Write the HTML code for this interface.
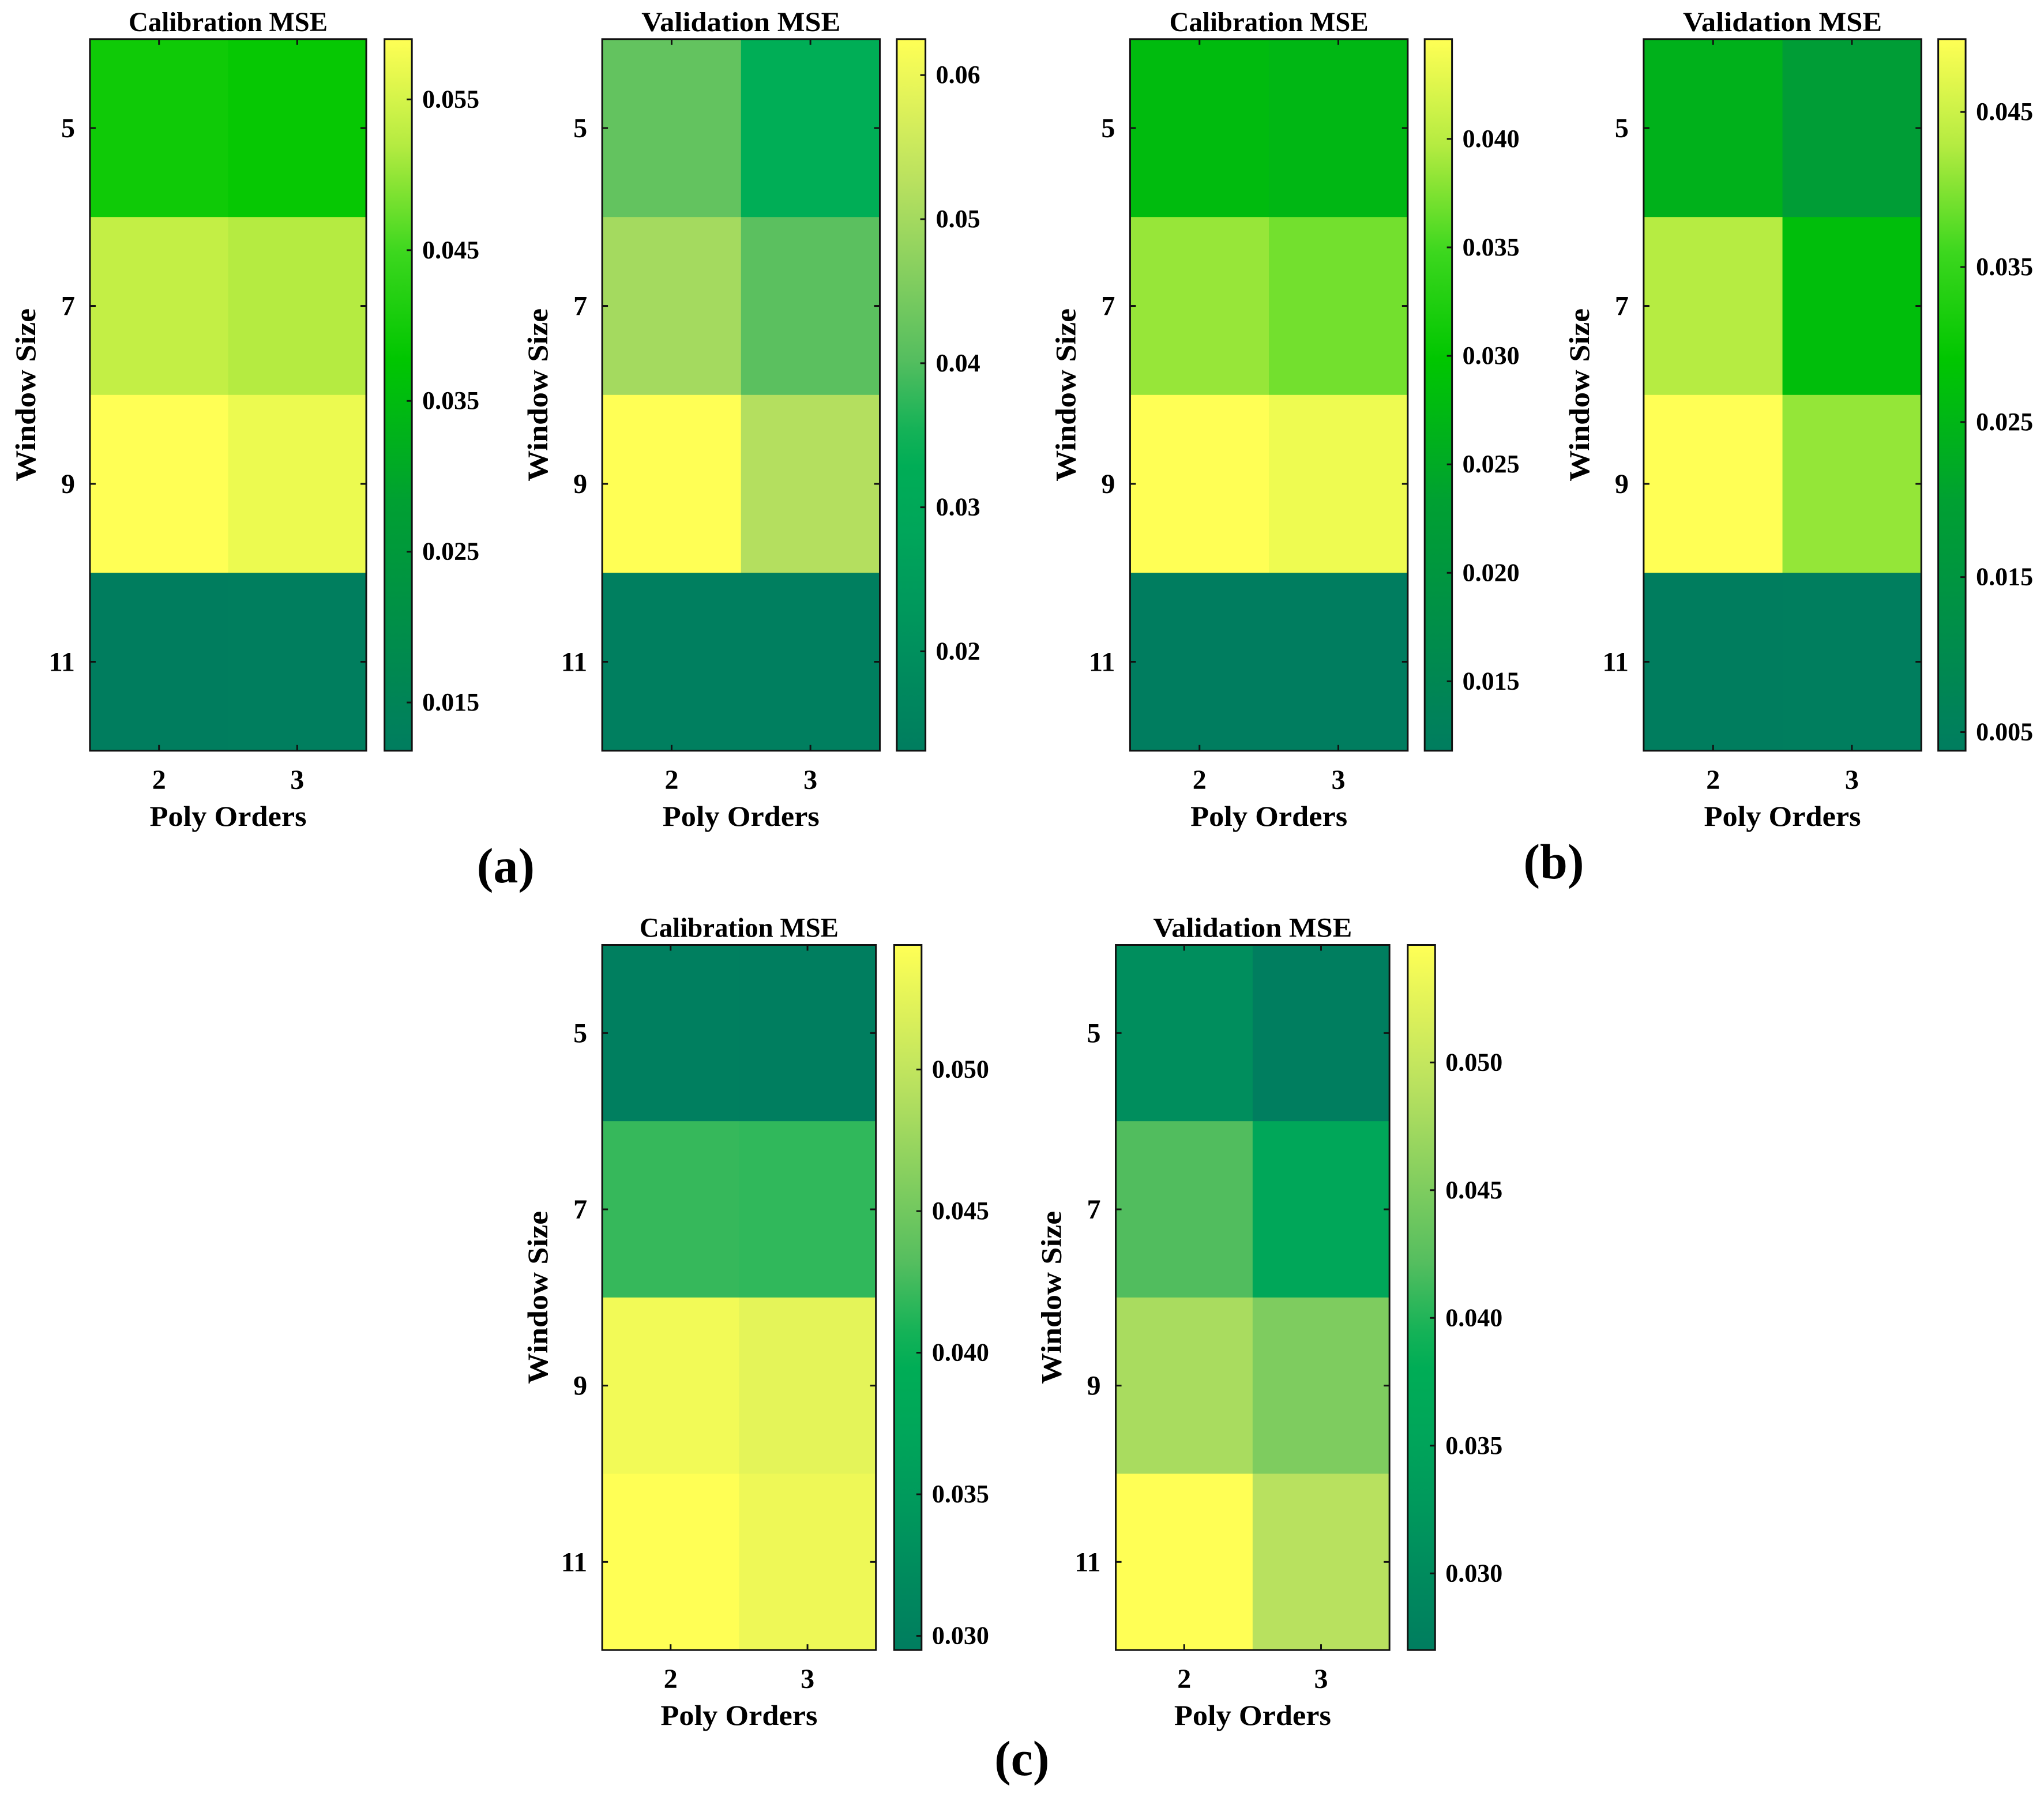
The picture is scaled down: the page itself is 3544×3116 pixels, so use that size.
<!DOCTYPE html>
<html><head><meta charset="utf-8"><style>
html,body{margin:0;padding:0;background:#fff;}
svg{display:block;font-family:"Liberation Serif",serif;font-weight:bold;}
</style></head><body>
<svg id="fig" width="3544" height="3116" viewBox="0 0 3544 3116" xmlns="http://www.w3.org/2000/svg"></svg>
<script>
const windowSizes = ["5","7","9","11"];
const polyOrders = ["2","3"];
// values[row][col]
const a1Values = [[0.0395,0.0385],[0.0533,0.0520],[0.0590,0.0572],[0.0120,0.0121]];
const a2Values = [[0.0420,0.0330],[0.0500,0.0410],[0.0625,0.0520],[0.0140,0.0140]];
const b1Values = [[0.0280,0.0272],[0.0385,0.0370],[0.0446,0.0435],[0.0118,0.0119]];
const b2Values = [[0.0240,0.0185],[0.0430,0.0270],[0.0497,0.0410],[0.0040,0.0041]];
const c1Values = [[0.0298,0.0297],[0.0420,0.0418],[0.0535,0.0525],[0.0544,0.0532]];
const c2Values = [[0.0305,0.0272],[0.0420,0.0360],[0.0480,0.0450],[0.0546,0.0490]];
const a1Ticks = ["0.015","0.025","0.035","0.045","0.055"];
const a2Ticks = ["0.02","0.03","0.04","0.05","0.06"];
const b1Ticks = ["0.015","0.020","0.025","0.030","0.035","0.040"];
const b2Ticks = ["0.005","0.015","0.025","0.035","0.045"];
const c1Ticks = ["0.030","0.035","0.040","0.045","0.050"];
const c2Ticks = ["0.030","0.035","0.040","0.045","0.050"];
const a1Range = [0.0118,0.0590];
const a2Range = [0.0131,0.0625];
const b1Range = [0.0118,0.0446];
const b2Range = [0.0038,0.0497];
const c1Range = [0.0295,0.0544];
const c2Range = [0.0270,0.0546];

const mapA = [[0,[0,125,95]],[0.35,[0,160,50]],[0.55,[0,198,0]],[0.7,[60,215,30]],[0.85,[180,235,65]],[1,[255,255,85]]];
const mapB = [[0,[0,125,95]],[0.3,[0,165,90]],[0.42,[0,175,85]],[0.55,[85,190,95]],[0.8,[185,225,95]],[1,[255,255,85]]];

function cmap(map,t){
  t=Math.max(0,Math.min(1,t));
  for(let i=1;i<map.length;i++){
    if(t<=map[i][0]){
      const [t0,c0]=map[i-1],[t1,c1]=map[i];const f=(t-t0)/(t1-t0);
      return `rgb(${c0.map((v,k)=>Math.round(v+(c1[k]-v)*f)).join(",")})`;
    }
  }
  return `rgb(${map[map.length-1][1].join(",")})`;
}
const NS="http://www.w3.org/2000/svg";
const svg=document.getElementById('fig');
function el(tag,attrs,parent,text){
  const e=document.createElementNS(NS,tag);
  for(const k in attrs) e.setAttribute(k,attrs[k]);
  if(text!==undefined) e.textContent=text;
  (parent||svg).appendChild(e);return e;
}
let uid=0;
function panel(name,title,x0,x1,y0,y1,cbx0,cbx1,values,ticks,range,map){
  const g=el('g',{});
  
  
  const nR=windowSizes.length,nC=polyOrders.length;
  const cw=(x1-x0)/nC,ch=(y1-y0)/nR;
  const xs=c=>x0+cw*(c+0.5), ys=r=>y0+ch*(r+0.5);
  const val2t=v=>(v-range[0])/(range[1]-range[0]);
  const cbY=v=>y1-(v-range[0])/(range[1]-range[0])*(y1-y0);
  values.forEach((row,r)=>row.forEach((v,c)=>{
    const rc=el('rect',{x:x0+cw*c,y:y0+ch*r,width:cw+0.5,height:ch+0.5,fill:cmap(map,val2t(v))},g);
    
    
  }));
  const fr=el('rect',{x:x0,y:y0,width:x1-x0,height:y1-y0,fill:'none',stroke:'#111','stroke-width':3},g);
  
  
  polyOrders.forEach((p,c)=>{
    el('line',{x1:xs(c),x2:xs(c),y1:y1,y2:y1-10,stroke:'#111','stroke-width':3},g);
    el('line',{x1:xs(c),x2:xs(c),y1:y0,y2:y0+10,stroke:'#111','stroke-width':3},g);
    const t=el('text',{x:xs(c),y:y1+66,'text-anchor':'middle','font-size':48},g,p);
    
    
  });
  windowSizes.forEach((w,r)=>{
    el('line',{x1:x0,x2:x0+10,y1:ys(r),y2:ys(r),stroke:'#111','stroke-width':3},g);
    el('line',{x1:x1,x2:x1-10,y1:ys(r),y2:ys(r),stroke:'#111','stroke-width':3},g);
    const t=el('text',{x:x0-26,y:ys(r)+16,'text-anchor':'end','font-size':48},g,w);
    
    
  });
  const tt=el('text',{x:(x0+x1)/2,y:y0-14,'text-anchor':'middle','font-size':48,textLength:345,lengthAdjust:'spacingAndGlyphs'},g,title);
  
  
  const xl=el('text',{x:(x0+x1)/2,y:y1+130,'text-anchor':'middle','font-size':50,textLength:272,lengthAdjust:'spacingAndGlyphs'},g,'Poly Orders');
  
  
  const yc=(y0+y1)/2;
  const yl=el('text',{x:x0-112,y:yc,'text-anchor':'middle','font-size':50,textLength:300,lengthAdjust:'spacingAndGlyphs',transform:`rotate(-90 ${x0-112} ${yc}) translate(0 17)`},g,'Window Size');
  
  
  const id='grad'+(uid++);
  const defs=el('defs',{},g);
  const lg=el('linearGradient',{id:id,x1:0,y1:1,x2:0,y2:0},defs);
  for(let i=0;i<=20;i++){el('stop',{offset:i/20,'stop-color':cmap(map,i/20)},lg);}
  const cb=el('rect',{x:cbx0,y:y0,width:cbx1-cbx0,height:y1-y0,fill:`url(#${id})`,stroke:'#111','stroke-width':3},g);
  
  
  ticks.forEach(tk=>{
    const yy=cbY(parseFloat(tk));
    el('line',{x1:cbx1,x2:cbx1-9,y1:yy,y2:yy,stroke:'#111','stroke-width':3},g);
    const t=el('text',{x:cbx1+18,y:yy+14,'font-size':44},g,tk);
    
    
  });
}
const S=2.26;
panel('panel-a-calibration','Calibration MSE',69*S,281*S,30*S,576*S,295*S,316*S,a1Values,a1Ticks,a1Range,mapA);
panel('panel-a-validation','Validation MSE',462*S,675*S,30*S,576*S,688*S,710*S,a2Values,a2Ticks,a2Range,mapB);
panel('panel-b-calibration','Calibration MSE',867*S,1080*S,30*S,576*S,1093*S,1114*S,b1Values,b1Ticks,b1Range,mapA);
panel('panel-b-validation','Validation MSE',1261*S,1474*S,30*S,576*S,1487*S,1508*S,b2Values,b2Ticks,b2Range,mapA);
panel('panel-c-calibration','Calibration MSE',462*S,672*S,725*S,1266*S,686*S,707*S,c1Values,c1Ticks,c1Range,mapB);
panel('panel-c-validation','Validation MSE',856*S,1066*S,725*S,1266*S,1080*S,1101*S,c2Values,c2Ticks,c2Range,mapB);
[['(a)',388,677],['(b)',1192,674],['(c)',784,1362]].forEach(([t,x,y])=>{
  const e=el('text',{x:x*S,y:y*S,'text-anchor':'middle','font-size':86},svg,t);
  
  
});
</script>
</body></html>
